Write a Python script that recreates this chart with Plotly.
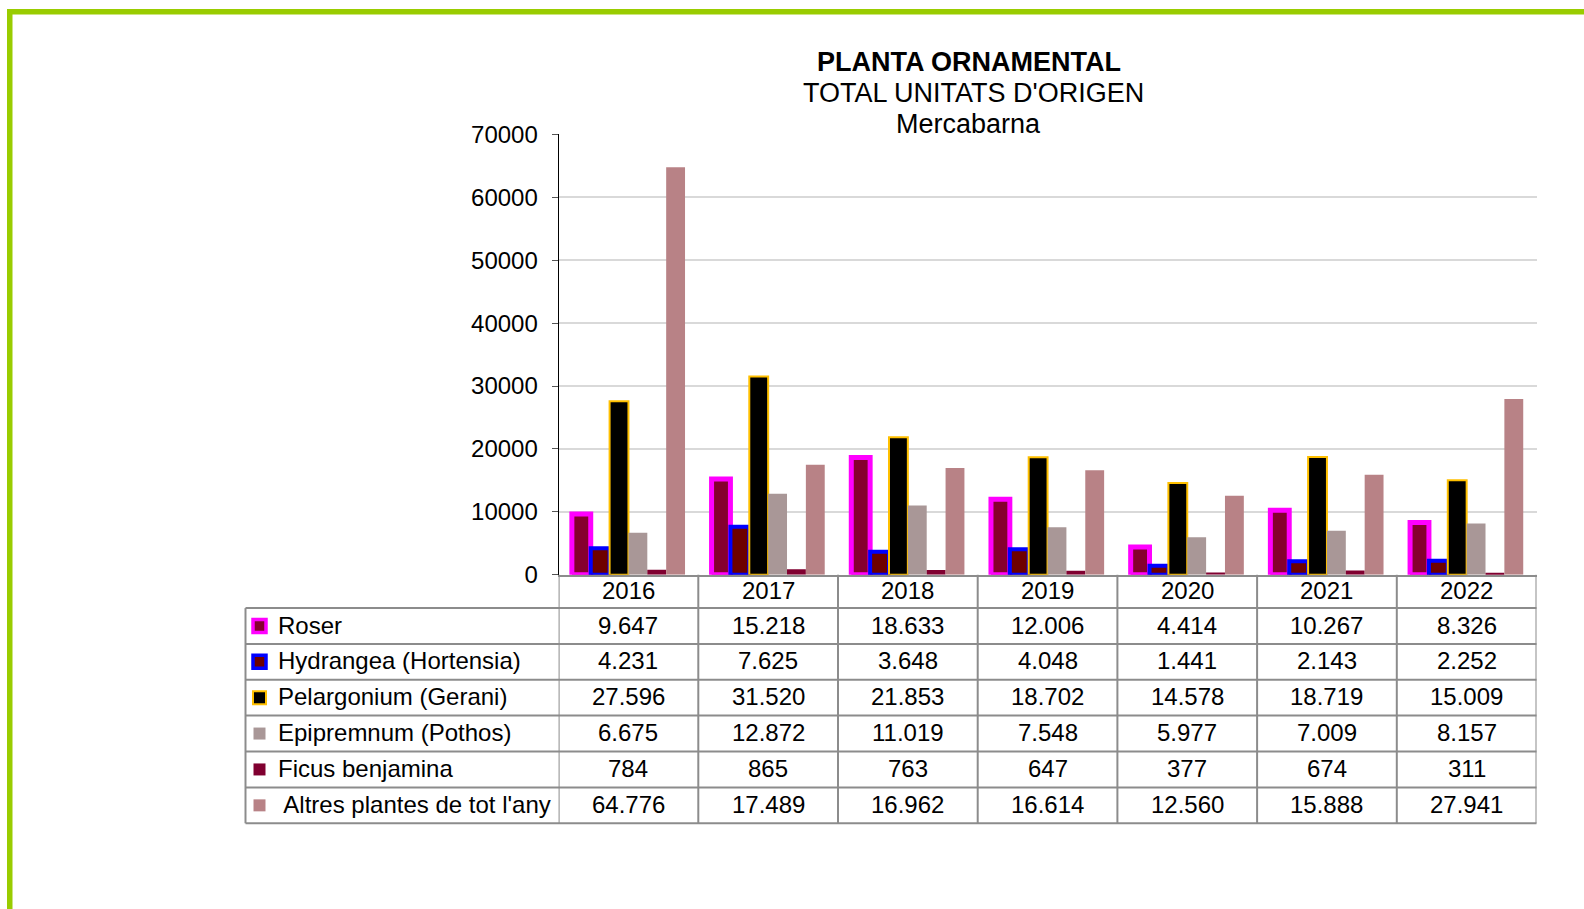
import plotly.graph_objects as go

W, H = 1584, 909

years = ["2016", "2017", "2018", "2019", "2020", "2021", "2022"]
series_names = ["Roser", "Hydrangea (Hortensia)", "Pelargonium (Gerani)",
                "Epipremnum (Pothos)", "Ficus benjamina", " Altres plantes de tot l'any"]
roser = [9647, 15218, 18633, 12006, 4414, 10267, 8326]
hydrangea = [4231, 7625, 3648, 4048, 1441, 2143, 2252]
pelargonium = [27596, 31520, 21853, 18702, 14578, 18719, 15009]
epipremnum = [6675, 12872, 11019, 7548, 5977, 7009, 8157]
ficus = [784, 865, 763, 647, 377, 674, 311]
altres = [64776, 17489, 16962, 16614, 12560, 15888, 27941]
series_values = [roser, hydrangea, pelargonium, epipremnum, ficus, altres]
y_ticks = [0, 10000, 20000, 30000, 40000, 50000, 60000, 70000]

styles = [
    dict(color="#86002E", line=dict(color="#FF00FF", width=5)),
    dict(color="#6E0000", line=dict(color="#0000FF", width=4)),
    dict(color="#000000", line=dict(color="#FFC000", width=2)),
    dict(color="#A99797", line=dict(width=0)),
    dict(color="#800030", line=dict(width=0)),
    dict(color="#B88286", line=dict(width=0)),
]

FONT = "Liberation Sans, Arial, sans-serif"
TXT = 24

def px(x):
    return x / W

def py(y):
    return 1 - y / H

# plot area in pixels
PL, PR, PT, PB = 558.6, 1536.5, 134.4, 574.8
TL = 245.5
row_lines = [608.1, 643.9, 679.8, 715.6, 751.5, 787.4, 823.3]

fig = go.Figure()
for name, vals, st in zip(series_names, series_values, styles):
    fig.add_trace(go.Bar(x=years, y=vals, name=name, marker=st, hoverinfo="x+y"))

shapes = []
annotations = []

# green frame
shapes.append(dict(type="rect", xref="paper", yref="paper", x0=px(7), x1=px(12.5), y0=0, y1=py(9),
                   fillcolor="#99CC00", line=dict(width=0), layer="above"))
shapes.append(dict(type="rect", xref="paper", yref="paper", x0=px(7), x1=1, y0=py(14.5), y1=py(9),
                   fillcolor="#99CC00", line=dict(width=0), layer="above"))

GRAY = "#8C8C8C"
# table horizontal lines
for yl in row_lines:
    shapes.append(dict(type="line", xref="paper", yref="paper", x0=px(TL), x1=px(PR),
                       y0=py(yl), y1=py(yl), line=dict(color=GRAY, width=2)))
# left border
shapes.append(dict(type="line", xref="paper", yref="paper", x0=px(TL), x1=px(TL),
                   y0=py(row_lines[0]), y1=py(row_lines[-1]), line=dict(color=GRAY, width=2)))
# category boundaries
for k in range(len(years) + 1):
    shapes.append(dict(type="line", xref="x", yref="paper", x0=k - 0.5, x1=k - 0.5,
                       y0=py(PB), y1=py(row_lines[-1]), line=dict(color=GRAY, width=2)))

# year headers (category axis: annotation positions are category indices)
for i, yr in enumerate(years):
    annotations.append(dict(x=i, xref="x", y=py((PB + row_lines[0]) / 2 - 1), yref="paper",
                            text=yr, showarrow=False, font=dict(size=TXT, color="black", family=FONT),
                            xanchor="center", yanchor="middle"))

def fmt(v):
    return f"{v:,}".replace(",", ".")

for r, (name, vals, st) in enumerate(zip(series_names, series_values, styles)):
    yc = (row_lines[r] + row_lines[r + 1]) / 2 - 1
    annotations.append(dict(x=px(276), xref="paper", y=py(yc), yref="paper", text=name,
                            showarrow=False, xanchor="left", yanchor="middle",
                            font=dict(size=TXT, color="black", family=FONT)))
    for i, v in enumerate(vals):
        annotations.append(dict(x=i, xref="x", y=py(yc), yref="paper", text=fmt(v),
                                showarrow=False, xanchor="center", yanchor="middle",
                                font=dict(size=TXT, color="black", family=FONT)))
    # legend key
    lw = st["line"].get("width", 0)
    half = 6.5 if lw else 6
    kx = 259.5
    shapes.append(dict(type="rect", xref="paper", yref="paper",
                       x0=px(kx - half), x1=px(kx + half), y0=py(yc + 1 + half), y1=py(yc + 1 - half),
                       fillcolor=st["color"],
                       line=dict(color=st["line"].get("color", st["color"]), width=min(lw, 3.5) if lw else 0)))

# title
title_lines = [("<b>PLANTA ORNAMENTAL</b>", 62.5, 969), ("TOTAL UNITATS D'ORIGEN", 93.0, 973),
               ("Mercabarna", 124.0, 969)]
for t, yy, xx in title_lines:
    annotations.append(dict(x=px(xx), xref="paper", y=py(yy), yref="paper", text=t, showarrow=False,
                            xanchor="center", yanchor="middle",
                            font=dict(size=27, color="black", family=FONT)))

fig.update_layout(
    template="none",
    width=W, height=H, autosize=False,
    margin=dict(l=0, r=0, t=0, b=0, pad=0, autoexpand=False),
    paper_bgcolor="white", plot_bgcolor="white",
    barmode="group", bargap=0.19, bargroupgap=0,
    showlegend=False,
    shapes=shapes, annotations=annotations,
    xaxis=dict(type="category", range=[-0.5, len(years) - 0.5], domain=[px(PL), px(PR)],
               showticklabels=False, showgrid=False, fixedrange=True,
               showline=True, linecolor=GRAY, linewidth=2, ticks="", zeroline=False, automargin=False),
    yaxis=dict(domain=[py(PB), py(PT)], range=[0, 70000], tickvals=y_ticks, automargin=False,
               ticktext=[str(v) for v in y_ticks], showgrid=True, gridcolor="#D9D9D9", gridwidth=1.5,
               showline=True, linecolor="black", linewidth=1, ticks="outside", ticklen=6,
               tickcolor="#555555", zeroline=False, ticklabelstandoff=9, fixedrange=True,
               tickfont=dict(size=TXT, color="black", family=FONT)),
)

fig.write_html("out.html", config={"displayModeBar": False},
               post_script="document.body.style.margin='0';")
